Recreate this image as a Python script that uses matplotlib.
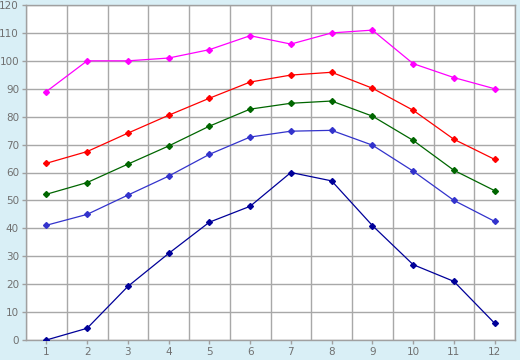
import matplotlib
matplotlib.use("Agg")
import matplotlib.pyplot as plt
import numpy as np

# data
months = [1, 2, 3, 4, 5, 6, 7, 8, 9, 10, 11, 12]
magenta_vals = [89, 100, 100, 101, 104, 109, 106, 110, 111, 99, 94, 90]
red_vals = [63.3, 67.5, 74.1, 80.5, 86.6, 92.4, 94.9, 95.9, 90.2, 82.3, 71.9, 64.7]
green_vals = [52.2, 56.4, 63.0, 69.5, 76.6, 82.7, 84.8, 85.6, 80.2, 71.5, 60.8, 53.5]
blue_vals = [41.1, 45.0, 51.9, 58.7, 66.5, 72.7, 74.8, 75.1, 69.8, 60.5, 50.0, 42.5]
navy_vals = [0, 4.2, 19.2, 31.0, 42.2, 47.9, 60.0, 57.0, 41.0, 27.0, 21.0, 6.0]

series = [magenta_vals, red_vals, green_vals, blue_vals, navy_vals]
colours = ["#ff00ff", "#ff0000", "#006600", "#3333cc", "#000099"]

fig = plt.figure(figsize=(5.2, 3.6), dpi=100)
fig.patch.set_facecolor("#d9eff6")
ax = fig.add_axes([26 / 520, 20 / 360, 489 / 520, 335 / 360])
ax.set_facecolor("white")

for vals, col in zip(series, colours):
    ax.plot(months, vals, color=col, linewidth=0.9, marker="D", markersize=3, zorder=3)

ax.set_xlim(0.5, 12.5)
ax.set_ylim(0, 120)
ax.set_xticks(months)
ax.set_yticks(np.arange(0, 121, 10))
ax.set_xticks(np.arange(0.5, 12.6, 1), minor=True)
ax.grid(False)
ax.grid(True, which="minor", axis="x", color="#a8a8a8", linewidth=1)
ax.grid(True, which="major", axis="y", color="#a8a8a8", linewidth=1)
ax.set_axisbelow(True)

for s in ax.spines.values():
    s.set_color("#a0a0a0")
    s.set_linewidth(1)

ax.tick_params(axis="both", which="major", labelsize=7.5, labelcolor="#707070",
               color="#a0a0a0", length=3, width=1)
ax.tick_params(axis="x", which="minor", length=0)
ax.tick_params(axis="x", pad=2)
ax.tick_params(axis="y", pad=2)

fig.savefig("out.png", dpi=100, facecolor=fig.get_facecolor())
